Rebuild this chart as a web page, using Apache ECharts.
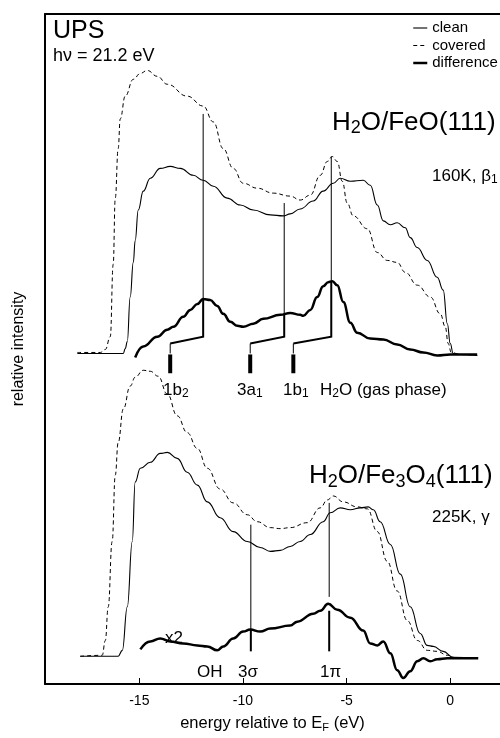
<!DOCTYPE html>
<html><head><meta charset="utf-8">
<script src="https://cdn.jsdelivr.net/npm/echarts@6/dist/echarts.min.js"></script>
<style>html,body{margin:0;padding:0;background:#fff}#c{width:500px;height:738px}</style>
</head><body><div id="c"></div>
<script>
// energy relative to E_F (eV), relative intensity (arbitrary units)
const xTicks = [-15, -10, -5, 0];

const feoClean = [[-17.99,334],[-15.77,334],[-15.68,339],[-15.58,346],[-15.44,391],[-15.29,426],[-15.20,448],[-15.05,479],[-14.81,498],[-14.47,511],[-13.99,521],[-13.51,523],[-13.02,521],[-12.40,514],[-11.92,509],[-11.43,503],[-10.76,491],[-10.13,484],[-9.50,479],[-8.68,474],[-8.06,473],[-7.72,475],[-7.24,480],[-6.61,488],[-6.13,498],[-5.64,506],[-5.31,511],[-4.82,508],[-4.20,509],[-3.86,504],[-3.52,484],[-3.23,468],[-2.89,464],[-2.56,466],[-2.17,461],[-1.93,451],[-1.59,441],[-1.11,428],[-0.63,411],[-0.34,398],[-0.14,364],[0.00,344],[0.14,334],[0.48,333],[1.30,332]];
const feoCovered = [[-17.99,335],[-16.88,335],[-16.64,338],[-16.40,351],[-16.26,424],[-16.16,491],[-16.02,541],[-15.92,571],[-15.68,594],[-15.29,611],[-14.95,617],[-14.62,620],[-14.13,614],[-13.65,606],[-12.69,594],[-11.92,584],[-11.43,568],[-10.95,541],[-10.47,521],[-9.99,506],[-9.31,501],[-8.54,496],[-7.72,493],[-7.24,489],[-6.75,494],[-6.27,514],[-5.93,528],[-5.69,533],[-5.45,528],[-5.21,508],[-4.97,486],[-4.68,473],[-4.00,460],[-3.52,436],[-3.04,428],[-2.56,426],[-2.17,416],[-1.59,403],[-0.96,391],[-0.48,374],[-0.24,361],[-0.10,344],[0.05,335],[0.48,333],[1.30,332]];
const feoDiff = [[-15.20,330],[-14.81,341],[-14.13,351],[-13.65,358],[-13.36,361],[-12.88,371],[-12.54,378],[-12.20,384],[-11.92,389],[-11.58,388],[-11.24,382],[-10.95,374],[-10.61,366],[-10.27,362],[-9.99,361],[-9.50,364],[-9.02,369],[-8.20,373],[-7.72,375],[-7.24,373],[-7.09,372],[-6.75,378],[-6.42,391],[-6.13,402],[-5.89,406],[-5.69,407],[-5.45,403],[-5.16,386],[-4.82,365],[-4.49,355],[-3.86,349],[-3.23,348],[-2.56,343],[-1.93,338],[-1.30,335],[-0.63,332],[0.00,333],[1.30,333]];

const fe3o4Clean = [[-17.85,28],[-16.02,28],[-15.82,34],[-15.58,78],[-15.34,144],[-15.20,204],[-14.95,218],[-14.47,224],[-13.99,233],[-13.65,234],[-13.17,228],[-12.69,214],[-12.20,201],[-11.72,184],[-11.10,168],[-10.47,154],[-9.79,144],[-9.17,138],[-8.68,134],[-8.20,135],[-7.72,139],[-7.24,144],[-6.75,151],[-6.13,164],[-5.79,173],[-5.31,178],[-4.82,176],[-4.34,178],[-3.96,179],[-3.71,176],[-3.38,164],[-2.89,141],[-2.41,111],[-1.93,78],[-1.45,51],[-1.11,39],[-0.82,38],[-0.34,33],[0.14,27],[1.30,26]];
const fe3o4Covered = [[-17.85,28],[-16.79,29],[-16.64,44],[-16.50,78],[-16.31,144],[-16.16,211],[-16.02,244],[-15.77,278],[-15.44,301],[-15.20,310],[-14.81,317],[-14.47,316],[-14.09,311],[-13.65,293],[-13.17,271],[-12.69,254],[-12.20,238],[-11.72,218],[-11.10,197],[-10.47,183],[-9.79,171],[-9.31,164],[-8.68,158],[-8.20,157],[-7.72,158],[-6.90,163],[-6.27,178],[-5.93,186],[-5.64,190],[-5.16,184],[-4.49,179],[-4.00,177],[-3.52,154],[-3.04,124],[-2.56,94],[-2.07,64],[-1.59,44],[-1.11,34],[-0.63,33],[-0.14,29],[0.34,26],[1.30,26]];
const fe3o4Diff = [[-14.95,35],[-14.47,43],[-13.99,46],[-13.51,43],[-12.88,41],[-12.20,39],[-11.72,38],[-11.24,34],[-10.95,38],[-10.47,46],[-9.99,53],[-9.65,55],[-9.17,53],[-8.68,56],[-7.72,59],[-7.38,63],[-6.61,71],[-6.27,74],[-5.89,81],[-5.45,75],[-4.82,67],[-4.20,54],[-3.86,41],[-3.52,39],[-3.23,43],[-2.89,31],[-2.56,14],[-2.27,6],[-1.93,13],[-1.59,23],[-1.30,26],[-0.96,23],[-0.63,25],[-0.14,26],[1.35,26]];

// level markers: H2O/FeO(111) adsorbate levels and gas-phase levels
const feoLevels = [-11.92, -8.01, -5.74];
const feoLevelTop = [576, 486, 533];
const feoLevelPeak = [389, 373, 407];
const gasLevels = [-13.51, -9.65, -7.57];
const bracketLevel = [351, 344, 334];   // line foot, knee, tick foot
const gasBar = [333, 314];
// H2O/Fe3O4(111) levels (3σ, 1π)
const fe3o4Levels = [-9.62, -5.84];
const fe3o4ThinTop = [161, 183];
const fe3o4ThinBottom = [55, 88];
const fe3o4ThickTop = [55, 74];
const fe3o4ThickBottom = [33, 33];

const FONT = '"Liberation Sans", Arial, Helvetica, sans-serif';

const thinSegs = [], medSegs = [], barSegs = [];
feoLevels.forEach((e, i) => {
  thinSegs.push({coords: [[e, feoLevelTop[i]], [e, feoLevelPeak[i]]]});
  medSegs.push({coords: [[e, feoLevelPeak[i]], [e, bracketLevel[0]], [gasLevels[i], bracketLevel[1]]]});
  thinSegs.push({coords: [[gasLevels[i], bracketLevel[1]], [gasLevels[i], bracketLevel[2]]]});
  barSegs.push({coords: [[gasLevels[i], gasBar[0]], [gasLevels[i], gasBar[1]]]});
});
fe3o4Levels.forEach((e, i) => {
  thinSegs.push({coords: [[e, fe3o4ThinTop[i]], [e, fe3o4ThinBottom[i]]]});
  medSegs.push({coords: [[e, fe3o4ThickTop[i]], [e, fe3o4ThickBottom[i]]]});
});

function lineSeries(name, data, width, type) {
  return {name, type: 'line', data, symbol: 'none', smooth: 0.45, smoothMonotone: 'x',
    silent: true, lineStyle: {color: '#000', width, type: type || 'solid'}, itemStyle: {color: '#000'}};
}
function segSeries(data, width) {
  return {type: 'lines', coordinateSystem: 'cartesian2d', polyline: true, silent: true,
    lineStyle: {color: '#000', width, opacity: 1, curveness: 0}, data};
}

function txt(x, y, text, size, subSize) {
  const ss = subSize || Math.round(size * 0.7);
  return {type: 'text', x, y, silent: true, style: {
    text, verticalAlign: 'middle', align: 'left', fill: '#000',
    fontFamily: FONT, fontSize: size,
    rich: {
      m: {fontSize: size, lineHeight: Math.round(size * 1.15), fontFamily: FONT, fill: '#000'},
      s: {fontSize: ss, lineHeight: ss, verticalAlign: 'bottom', fontFamily: FONT, fill: '#000'}
    }
  }};
}

const chart = echarts.init(document.getElementById('c'), null, {renderer: 'canvas'});
chart.setOption({
  animation: false,
  backgroundColor: '#fff',
  grid: {left: 45, top: 14, right: 0, bottom: 47},
  legend: {
    orient: 'vertical', left: 412, top: 20.5, padding: 0, itemWidth: 14, itemHeight: 8, itemGap: 2.5,
    selectedMode: false, data: ['clean', 'covered', 'difference'],
    textStyle: {fontSize: 15, lineHeight: 15, fontFamily: FONT, color: '#000'},
    itemStyle: {opacity: 0},
    lineStyle: {width: 'inherit', type: 'inherit', color: '#000'}
  },
  xAxis: [{
    type: 'value', position: 'bottom', min: -19.55, max: 2.4,
    axisLine: {show: true, onZero: false, lineStyle: {color: '#000', width: 2}},
    axisTick: {show: true, inside: true, length: 6, customValues: xTicks, lineStyle: {color: '#000', width: 1}},
    axisLabel: {show: true, customValues: xTicks, margin: 10, fontSize: 14, fontFamily: FONT, color: '#000'},
    splitLine: {show: false},
    name: 'energy relative to E{s|F} (eV)', nameLocation: 'middle', nameGap: 29,
    nameTextStyle: {fontSize: 16.5, lineHeight: 20, fontFamily: FONT, color: '#000',
      rich: {s: {fontSize: 11, lineHeight: 11, verticalAlign: 'bottom', fontFamily: FONT, color: '#000'}}}
  }, {
    type: 'value', position: 'top', min: -19.55, max: 2.4,
    axisLine: {show: true, onZero: false, lineStyle: {color: '#000', width: 2}},
    axisTick: {show: false}, axisLabel: {show: false}, splitLine: {show: false}
  }],
  yAxis: {
    type: 'value', min: 0, max: 677,
    axisLine: {show: true, onZero: false, lineStyle: {color: '#000', width: 2}},
    axisTick: {show: false}, axisLabel: {show: false}, splitLine: {show: false},
    name: 'relative intensity', nameLocation: 'middle', nameGap: 18,
    nameTextStyle: {fontSize: 16, fontFamily: FONT, color: '#000'}
  },
  series: [
    lineSeries('clean', feoClean, 1.1),
    lineSeries('covered', feoCovered, 1, [4, 3]),
    lineSeries('difference', feoDiff, 2.5),
    lineSeries('clean', fe3o4Clean, 1.1),
    lineSeries('covered', fe3o4Covered, 1, [4, 3]),
    lineSeries('difference', fe3o4Diff, 2.5),
    segSeries(thinSegs, 1),
    segSeries(medSegs, 2),
    segSeries(barSegs, 4)
  ],
  graphic: [
    txt(53, 31.5, 'UPS', 25),
    txt(53, 56.5, 'hν = 21.2 eV', 18),
    txt(332, 122.5, '{m|H}{s|2}{m|O/FeO(111)}', 26, 18),
    txt(432, 176, '{m|160K, β}{s|1}', 17, 12),
    txt(163, 390, '{m|1b}{s|2}', 17, 12),
    txt(237, 390, '{m|3a}{s|1}', 17, 12),
    txt(283, 390, '{m|1b}{s|1}', 17, 12),
    txt(320, 390, '{m|H}{s|2}{m|O (gas phase)}', 17, 12),
    txt(309, 476, '{m|H}{s|2}{m|O/Fe}{s|3}{m|O}{s|4}{m|(111)}', 26, 18),
    txt(432, 517, '225K, γ', 17),
    txt(165, 638, 'x2', 17),
    txt(197, 672, 'OH', 17),
    txt(238, 672, '3σ', 17),
    txt(320, 672, '1π', 17)
  ]
});
</script>
</body></html>
